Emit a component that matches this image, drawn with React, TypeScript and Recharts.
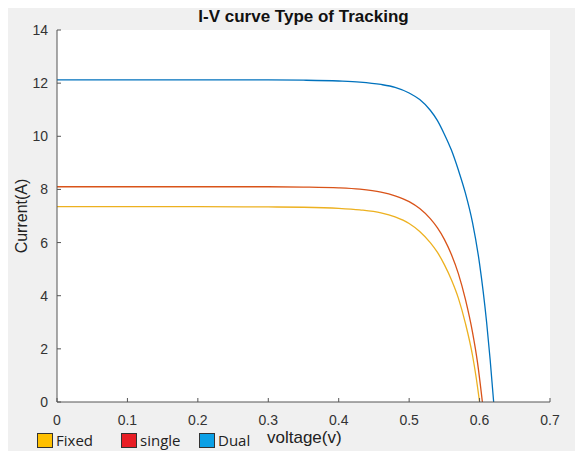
import React from 'react';
import { LineChart, Line, XAxis, YAxis, CartesianGrid } from 'recharts';

const fixedV = [0, 0.1, 0.2, 0.3, 0.35, 0.4, 0.43, 0.46, 0.48, 0.5, 0.515, 0.53, 0.54, 0.55, 0.56, 0.57, 0.58, 0.59, 0.595, 0.6];
const fixedI = [7.35, 7.35, 7.35, 7.34, 7.33, 7.29, 7.23, 7.12, 6.97, 6.72, 6.42, 6.0, 5.64, 5.17, 4.6, 3.9, 2.95, 1.75, 0.95, 0];

const singleV = [0, 0.1, 0.2, 0.3, 0.35, 0.4, 0.43, 0.46, 0.48, 0.5, 0.515, 0.53, 0.54, 0.55, 0.56, 0.57, 0.58, 0.59, 0.597, 0.604];
const singleI = [8.1, 8.1, 8.1, 8.1, 8.09, 8.06, 8.01, 7.9, 7.76, 7.54, 7.28, 6.9, 6.56, 6.12, 5.55, 4.82, 3.85, 2.62, 1.5, 0];

const dualV = [0, 0.1, 0.2, 0.3, 0.35, 0.4, 0.43, 0.46, 0.48, 0.5, 0.515, 0.53, 0.54, 0.55, 0.56, 0.57, 0.58, 0.59, 0.6, 0.61, 0.615, 0.62];
const dualI = [12.12, 12.12, 12.12, 12.12, 12.11, 12.08, 12.04, 11.95, 11.84, 11.63, 11.38, 10.98, 10.6, 10.08, 9.48, 8.72, 7.85, 6.75, 5.2, 3.0, 1.6, 0];

const xTicks = [0, 0.1, 0.2, 0.3, 0.4, 0.5, 0.6, 0.7];
const yTicks = [0, 2, 4, 6, 8, 10, 12, 14];

const seriesNames = ['Fixed', 'single', 'Dual'];
const lineColors = ['#EDB120', '#D95319', '#0072BD'];
const swatchColors = ['#FFC000', '#E81E25', '#0BA0E6'];

const toPoints = (vs: number[], is: number[]) => vs.map((v, k) => ({ v, i: is[k] }));
const seriesData = [toPoints(fixedV, fixedI), toPoints(singleV, singleI), toPoints(dualV, dualI)];

const W = 575;
const H = 443;
const tickFont = { fontFamily: 'Liberation Sans, Arial, sans-serif', fontSize: 14, fill: '#333' };
const axisStroke = '#555';

export default function App() {
  const legendX = [29, 113, 191];
  return (
    <div style={{ position: 'relative', width: W, height: H, background: '#f0f0f0', fontFamily: 'Liberation Sans, Arial, sans-serif' }}>
      <LineChart width={W} height={H} margin={{ top: 22, right: 33, bottom: 0, left: 0 }}>
        <CartesianGrid fill="#ffffff" horizontal={false} vertical={false} />
        <XAxis
          xAxisId="b"
          type="number"
          dataKey="v"
          domain={[0, 0.7]}
          ticks={xTicks}
          allowDataOverflow
          height={49}
          stroke={axisStroke}
          tickSize={-4}
          tickMargin={17}
          tick={tickFont}
          tickFormatter={(t: number) => String(Number(t.toFixed(1)))}
        />
        <XAxis
          xAxisId="t"
          orientation="top"
          type="number"
          dataKey="v"
          domain={[0, 0.7]}
          ticks={xTicks}
          height={0}
          mirror
          stroke={axisStroke}
          tickSize={4}
          tick={false as any}
        />
        <YAxis
          yAxisId="l"
          type="number"
          domain={[0, 14]}
          ticks={yTicks}
          width={49}
          stroke={axisStroke}
          tickSize={-4}
          tickMargin={13}
          tick={tickFont}
        />
        <YAxis
          yAxisId="r"
          orientation="right"
          type="number"
          domain={[0, 14]}
          ticks={yTicks}
          width={0}
          mirror
          stroke={axisStroke}
          tickSize={4}
          tick={false as any}
        />
        {seriesData.map((d, k) => (
          <Line
            key={seriesNames[k]}
            xAxisId="b"
            yAxisId="l"
            data={d}
            dataKey="i"
            name={seriesNames[k]}
            type="monotone"
            stroke={lineColors[k]}
            strokeWidth={1.3}
            dot={false}
            isAnimationActive={false}
          />
        ))}
      </LineChart>
      <div style={{ position: 'absolute', left: 0, width: 591, top: -1, textAlign: 'center', fontWeight: 'bold', fontSize: 17, color: '#111' }}>
        I-V curve Type of Tracking
      </div>
      <div
        style={{
          position: 'absolute',
          left: 14,
          top: 208,
          transform: 'translate(-50%, -50%) rotate(-90deg)',
          fontSize: 16,
          color: '#222',
          whiteSpace: 'nowrap',
        }}
      >
        Current(A)
      </div>
      <div style={{ position: 'absolute', left: 259, top: 420, fontSize: 17, color: '#222', whiteSpace: 'nowrap' }}>voltage(v)</div>
      {seriesNames.map((n, k) => (
        <div key={n} style={{ position: 'absolute', left: legendX[k], top: 422, display: 'flex', alignItems: 'center' }}>
          <div style={{ width: 16, height: 15, background: swatchColors[k], border: '1px solid #333', boxSizing: 'border-box' }} />
          <span style={{ fontFamily: 'Open Sans, sans-serif', fontSize: 15, marginLeft: 3, color: '#222' }}>{n}</span>
        </div>
      ))}
    </div>
  );
}
